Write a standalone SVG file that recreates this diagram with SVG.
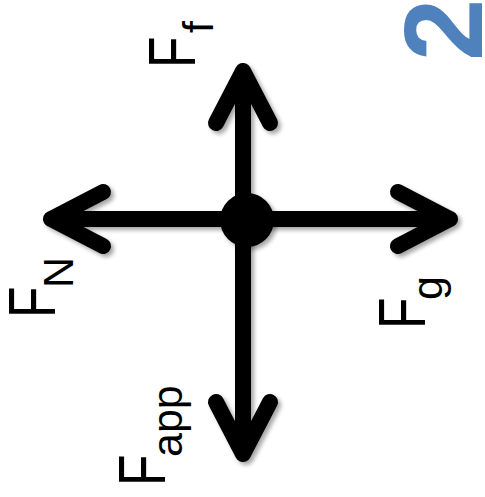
<svg xmlns="http://www.w3.org/2000/svg" width="485" height="497" viewBox="0 0 485 497">
<defs>
<style>
.arr{fill:none;stroke:#000;stroke-width:16;stroke-linecap:round;stroke-linejoin:round}
.F{font-family:"Liberation Sans",Arial,sans-serif;font-size:66px;fill:#000}
.sub{font-family:"Liberation Sans",Arial,sans-serif;font-size:43px;fill:#000}
.num{font-family:"Liberation Sans",Arial,sans-serif;font-size:112px;font-weight:bold;fill:#4F81BD}
</style>
<filter id="sh" x="-10%" y="-10%" width="120%" height="120%">
<feDropShadow dx="3" dy="3" stdDeviation="2" flood-color="#000" flood-opacity="0.35"/>
</filter>
</defs>
<rect width="485" height="497" fill="#fff"/>
<g id="connectors" filter="url(#sh)">
<path class="arr" d="M243,220 V71 M216,123 L243,71 L270,123"/>
<path class="arr" d="M243,220 V454 M216,402 L243,454 L270,402"/>
<path class="arr" d="M243,219 H51 M103,192 L51,219 L103,246"/>
<path class="arr" d="M243,219 H450 M398,192 L450,219 L398,246"/>
</g>
<g id="center" filter="url(#sh)">
<circle cx="247" cy="220" r="27" fill="#000"/>
</g>
<g id="label-Ff">
<text class="F" transform="translate(195,68) rotate(-90) scale(0.78,1)">F</text>
<text class="sub" transform="translate(213,33) rotate(-90)">f</text>
</g>
<g id="label-FN">
<text class="F" transform="translate(55,318) rotate(-90) scale(0.78,1)">F</text>
<text class="sub" transform="translate(73,288) rotate(-90)">N</text>
</g>
<g id="label-Fg">
<text class="F" transform="translate(425,329) rotate(-90) scale(0.78,1)">F</text>
<text class="sub" transform="translate(442,300) rotate(-90)">g</text>
</g>
<g id="label-Fapp">
<text class="F" transform="translate(165,486) rotate(-90) scale(0.78,1)">F</text>
<text class="sub" transform="translate(182,457) rotate(-90)">app</text>
</g>
<g id="number">
<text class="num" transform="translate(482,61) rotate(-90)">2</text>
</g>
</svg>
